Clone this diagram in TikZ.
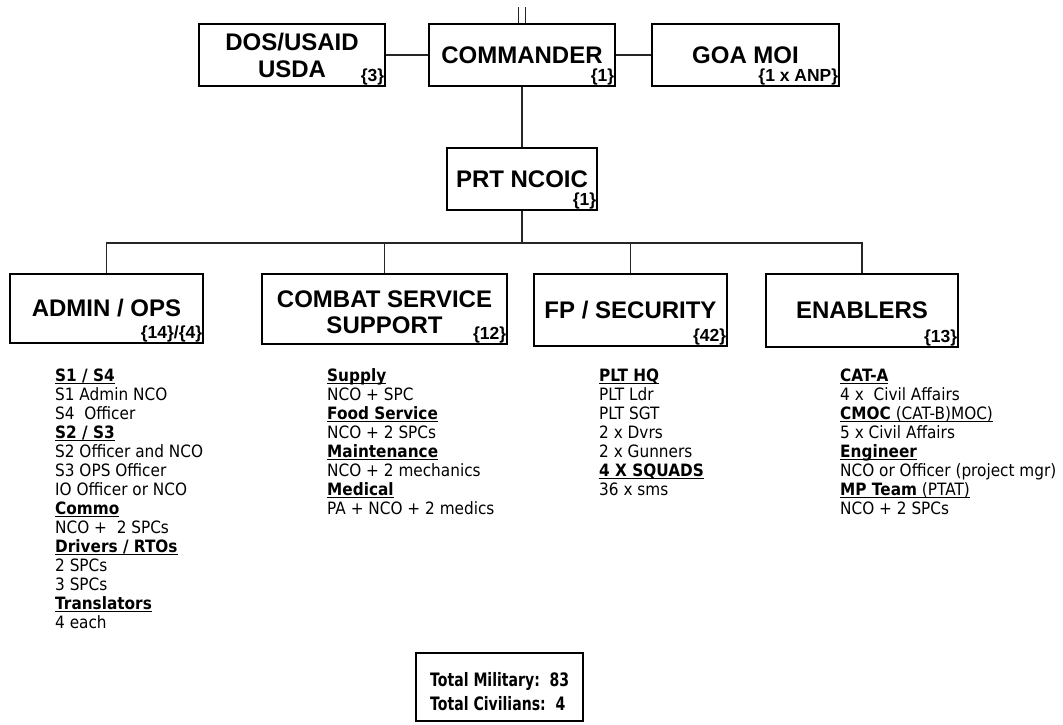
\documentclass[tikz,border=0pt]{standalone}
\usepackage{fontspec}
\setmainfont{Liberation Sans}
\newfontfamily\listfont[FakeStretch=0.9]{DejaVu Sans}
\newfontfamily\totfont[FakeStretch=0.76]{DejaVu Sans}
\newcommand\uhead[1]{\setbox0\hbox{#1}\rlap{\rule[-2.6pt]{\wd0}{1.2pt}}\box0}
\tikzset{
  box/.style={draw, line width=1.8pt, inner sep=0pt, align=center,
    font=\bfseries\fontsize{24}{27}\selectfont},
  num/.style={anchor=south east, inner sep=1.5pt,
    font=\bfseries\fontsize{17.5}{17.5}\selectfont},
  lst/.style={anchor=north west, inner sep=0pt, align=left,
    font=\listfont\fontsize{17}{19}\selectfont},
  conn/.style={line width=1.2pt, draw=black!85},
}
\begin{document}
\begin{tikzpicture}[x=1pt,y=-1pt]
\useasboundingbox (0,0) rectangle (1063,724);
% top row
\node[box, minimum width=186pt, minimum height=62pt] (dos) at (292,55) {DOS/USAID\\USDA};
\node[box, minimum width=186pt, minimum height=62pt] (cmd) at (522,55) {COMMANDER};
\node[box, minimum width=187pt, minimum height=62pt] (goa) at (745.5,55) {GOA MOI};
\node[num] (dosn) at (dos.south east) {\{3\}};
\node[num] (cmdn) at (cmd.south east) {\{1\}};
\node[num] (goan) at (goa.south east) {\{1 x ANP\}};
% NCOIC
\node[box, minimum width=150pt, minimum height=62pt] (nco) at (522,179) {PRT NCOIC};
\node[num] (ncon) at (nco.south east) {\{1\}};
% second row
\node[box, minimum width=193pt, minimum height=69pt] (adm) at (106.5,308.5) {ADMIN / OPS};
\node[box, minimum width=245pt, minimum height=70pt] (css) at (384.5,309) {};
\node[align=center, inner sep=0pt, font=\bfseries\fontsize{24}{26}\selectfont] (csst) at (384.5,312) {COMBAT SERVICE\\SUPPORT};
\node[box, minimum width=193pt, minimum height=72pt] (fp) at (630.5,310) {FP / SECURITY};
\node[box, minimum width=192pt, minimum height=73pt] (enb) at (862,310.5) {ENABLERS};
\node[num] (admn) at (adm.south east) {\{14\}/\{4\}};
\node[num] (cssn) at (css.south east) {\{12\}};
\node[num] (fpn) at (fp.south east) {\{42\}};
\node[num] (enbn) at (enb.south east) {\{13\}};
% connectors
\coordinate (t1) at (518.5,7);
\coordinate (t2) at (525.5,7);
\coordinate (bus) at (522,243);
\draw[conn] (t1) -- (t1 |- cmd.north);
\draw[conn] (t2) -- (t2 |- cmd.north);
\draw[conn] (dos) -- (cmd);
\draw[conn] (cmd) -- (goa);
\draw[conn] (cmd.south) -- (nco.north);
\draw[conn] (nco.south) -- (bus);
\draw[conn] (adm.north) -- (adm.north |- bus) -- (enb.north |- bus) -- (enb.north);
\draw[conn] (css.north) -- (css.north |- bus);
\draw[conn] (fp.north) -- (fp.north |- bus);
\draw[conn, line width=1.8pt] (css.north |- bus) -- (fp.north |- bus);
% lists
\node[lst] (admlist) at (55,368.5) {\uhead{\textbf{S1 / S4}}\\S1 Admin NCO\\S4\ \ Officer\\\uhead{\textbf{S2 / S3}}\\S2 Officer and NCO\\S3 OPS Officer\\IO Officer or NCO\\\uhead{\textbf{Commo}}\\NCO +\ \ 2 SPCs\\\uhead{\textbf{Drivers / RTOs}}\\2 SPCs\\3 SPCs\\\uhead{\textbf{Translators}}\\4 each};
\node[lst] (csslist) at (327,368.5) {\uhead{\textbf{Supply}}\\NCO + SPC\\\uhead{\textbf{Food Service}}\\NCO + 2 SPCs\\\uhead{\textbf{Maintenance}}\\NCO + 2 mechanics\\\uhead{\textbf{Medical}}\\PA + NCO + 2 medics};
\node[lst] (fplist) at (599,368.5) {\uhead{\textbf{PLT HQ}}\\PLT Ldr\\PLT SGT\\2 x Dvrs\\2 x Gunners\\\uhead{\textbf{4 X SQUADS}}\\36 x sms};
\node[lst] (enblist) at (840,368.5) {\uhead{\textbf{CAT-A}}\\4 x\ \ Civil Affairs\\\uhead{\textbf{CMOC} (CAT-B)MOC)}\\5 x Civil Affairs\\\uhead{\textbf{Engineer}}\\NCO or Officer (project mgr)\\\uhead{\textbf{MP Team} (PTAT)}\\NCO + 2 SPCs};
% totals
\node[draw, line width=1.2pt, minimum width=167pt, minimum height=68pt, inner sep=0pt] (tot) at (499.5,687) {};
\node[anchor=west, inner sep=0pt, align=left,
  font=\totfont\bfseries\fontsize{18.5}{24.5}\selectfont] (tott) at (430,691.5) {Total Military:\ \ 83\\Total Civilians:\ \ 4};
\end{tikzpicture}
\end{document}
